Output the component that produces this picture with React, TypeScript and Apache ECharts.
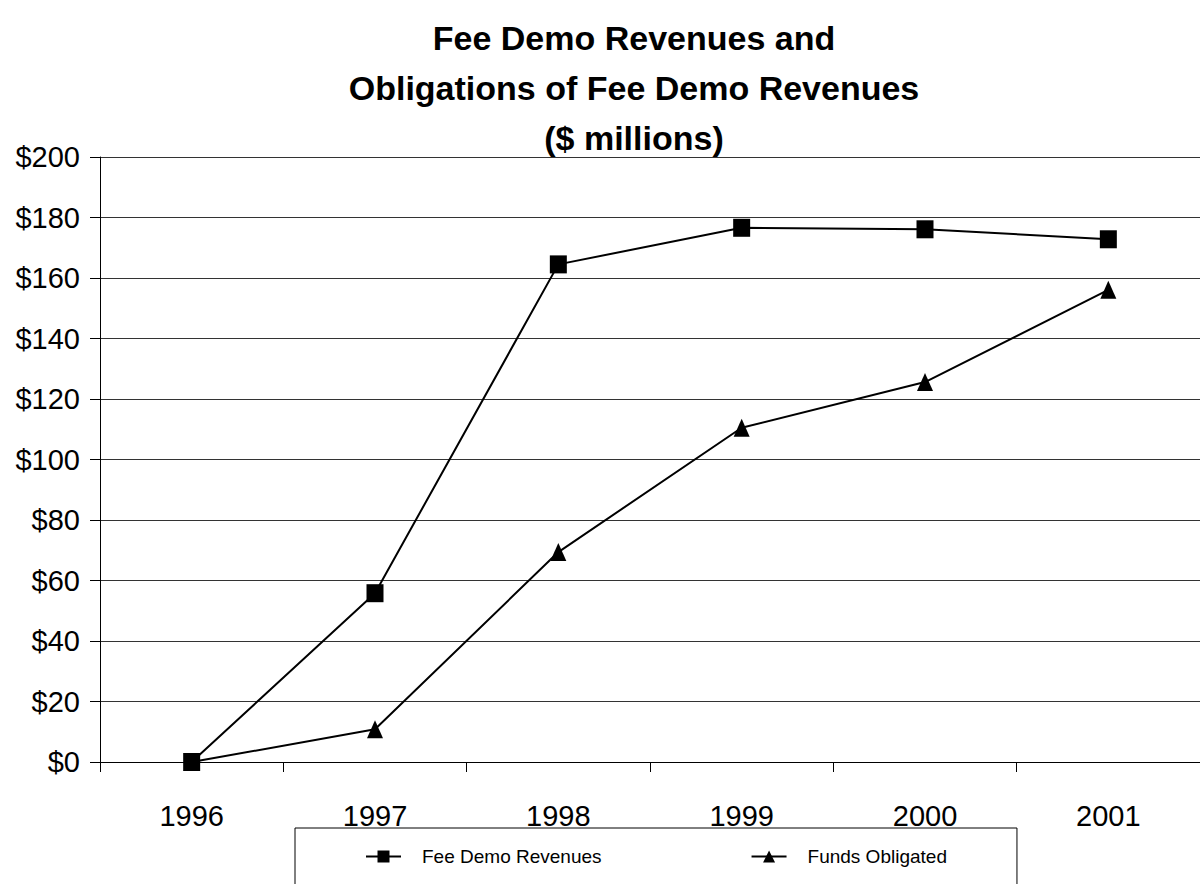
import React, { useEffect, useRef } from "react";
import * as echarts from "echarts";

const years = ["1996", "1997", "1998", "1999", "2000", "2001"];
const feeDemoRevenues = [0, 55.8, 164.5, 176.6, 176.1, 172.8];
const fundsObligated = [0, 10.8, 69.4, 110.5, 125.6, 156.1];
const titleText = "Fee Demo Revenues and\nObligations of Fee Demo Revenues\n($ millions)";
const FONT = '"Liberation Sans", Arial, sans-serif';

export default function App() {
  const ref = useRef<HTMLDivElement>(null);
  useEffect(() => {
    if (!ref.current) return;
    const chart = echarts.init(ref.current, undefined, { renderer: "svg" });
    chart.setOption({
      animation: false,
      backgroundColor: "#fff",
      title: {
        text: titleText,
        left: 629,
        top: 8,
        textAlign: "center",
        textStyle: {
          fontFamily: FONT,
          fontSize: 34,
          fontWeight: "bold",
          color: "#000",
          lineHeight: 50,
        },
      },
      grid: { left: 100, right: -5, top: 157, bottom: 122, containLabel: false },
      xAxis: {
        type: "category",
        data: years,
        boundaryGap: true,
        axisLine: { lineStyle: { color: "#000", width: 1 } },
        axisTick: { show: true, length: 10, inside: false, lineStyle: { color: "#000" } },
        axisLabel: { margin: 39, fontFamily: FONT, fontSize: 29, color: "#000" },
        splitLine: { show: false },
      },
      yAxis: {
        type: "value",
        min: 0,
        max: 200,
        interval: 20,
        axisLine: { show: true, lineStyle: { color: "#000", width: 1 } },
        axisTick: { show: true, length: 10, lineStyle: { color: "#000" } },
        axisLabel: {
          margin: 20,
          fontFamily: FONT,
          fontSize: 29,
          color: "#000",
          formatter: (v: number) => "$" + v,
        },
        splitLine: { show: true, lineStyle: { color: "#333", width: 1 } },
      },
      legend: {
        left: 295,
        top: 828,
        orient: "horizontal",
        padding: [19, 70, 40, 70],
        itemGap: 149,
        itemWidth: 35,
        itemHeight: 15,
        borderColor: "#000",
        borderWidth: 1,
        backgroundColor: "#fff",
        textStyle: { fontFamily: FONT, fontSize: 19, color: "#000", padding: [0, 0, 0, 16] },
        data: ["Fee Demo Revenues", "Funds Obligated"],
      },
      series: [
        {
          name: "Fee Demo Revenues",
          type: "line",
          data: feeDemoRevenues,
          symbol: "rect",
          symbolSize: [17, 18],
          lineStyle: { color: "#000", width: 2 },
          itemStyle: { color: "#000" },
        },
        {
          name: "Funds Obligated",
          type: "line",
          data: fundsObligated,
          symbol: "triangle",
          symbolSize: [16, 18],
          lineStyle: { color: "#000", width: 2 },
          itemStyle: { color: "#000" },
        },
      ],
    });
    return () => chart.dispose();
  }, []);
  return (
    <div
      ref={ref}
      style={{ position: "absolute", left: 0, top: 0, width: 1200, height: 884 }}
    />
  );
}
